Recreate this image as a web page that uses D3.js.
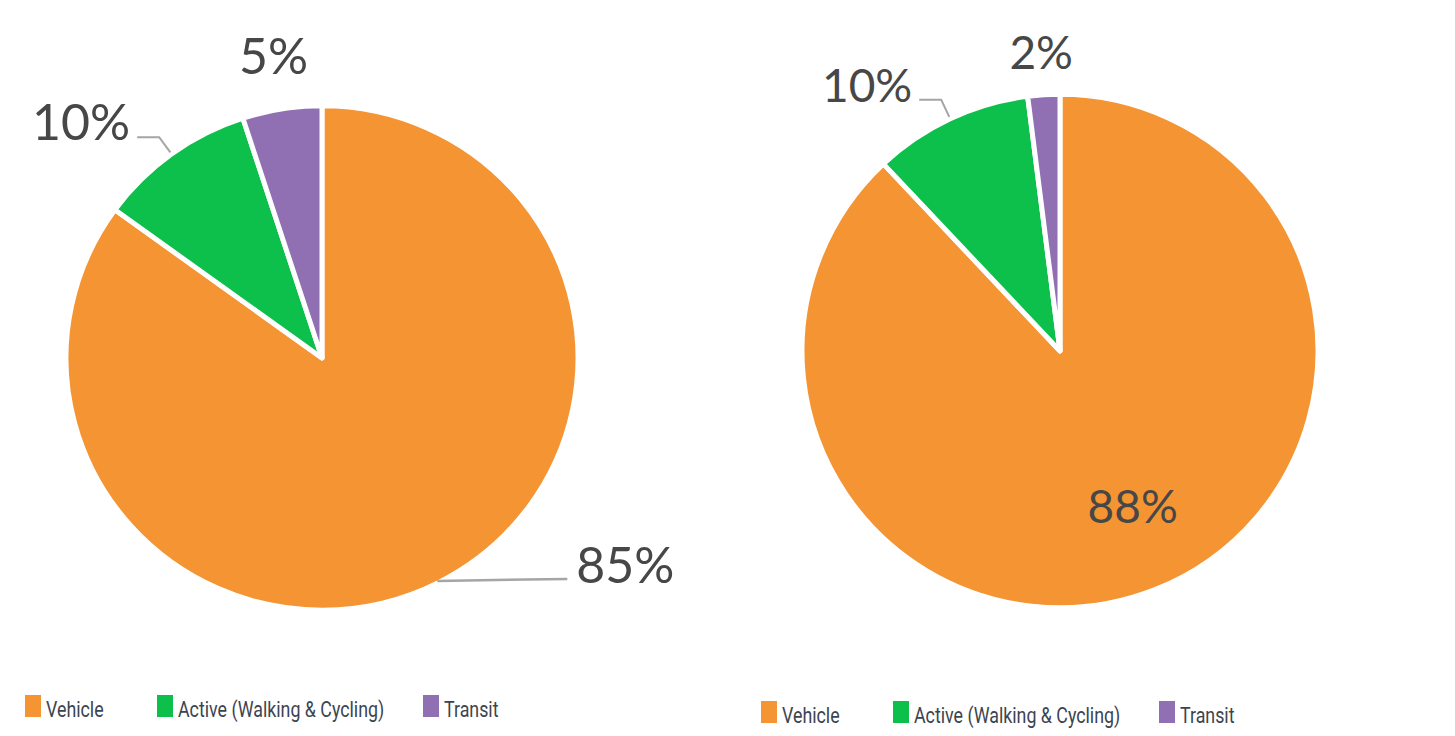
<!DOCTYPE html>
<html lang="en">
<head>
<meta charset="utf-8">
<script src="https://d3js.org/d3.v7.min.js"></script>
<style>
  html, body { margin: 0; padding: 0; background: #fff; }
  svg { display: block; }
  .pct { font-family: "Lato", "Open Sans", sans-serif; font-weight: 400; fill: #474747; }
  .leg { font-family: "Roboto", "Liberation Sans", sans-serif; fill: #3c4450; }
</style>
</head>
<body>
<div id="chart"></div>
<script>
// data
var categories = ["Vehicle", "Active (Walking & Cycling)", "Transit"];
var leftValues = [85, 10, 5];
var rightValues = [88, 10, 2];
var colors = ["#F49433", "#0DBF4B", "#9070B2"];

var W = 1455, H = 736;
var svg = d3.select("#chart").append("svg").attr("width", W).attr("height", H);

var color = d3.scaleOrdinal().domain(categories).range(colors);

// label styles per slice: "elbow" (leader with a bend), "straight" (flat leader), "plain" (no leader), "inside"
function drawPie(opt, values) {
  var cx = opt.cx, cy = opt.cy, r = opt.r, fontSize = opt.fontSize;
  var data = categories.map(function (c, i) { return { name: c, value: values[i] }; });
  var pie = d3.pie().sort(null).value(function (d) { return d.value; });
  var arc = d3.arc().innerRadius(0).outerRadius(r);
  var arcs = pie(data);

  var g = svg.append("g").attr("transform", "translate(" + cx + "," + cy + ")");
  g.append("g").attr("transform", "scale(1," + opt.sy + ")")
    .selectAll("path.slice")
    .data(arcs)
    .enter().append("path")
    .attr("class", "slice")
    .attr("d", arc)
    .attr("fill", function (d) { return color(d.data.name); })
    .attr("stroke", "#fff")
    .attr("stroke-width", 5)
    .attr("stroke-linejoin", "round");

  arcs.forEach(function (d, i) {
    var a = (d.startAngle + d.endAngle) / 2;
    var sx = Math.sin(a), sy = -Math.cos(a) * opt.sy;
    var mode = opt.modes[i];
    var txt = d.data.value + "%";
    if (mode === "inside") {
      var p = r * 0.66;
      g.append("text").attr("class", "pct")
        .attr("x", sx * p + 10).attr("y", sy * p - 2)
        .attr("dy", "0.35em").attr("text-anchor", "middle")
        .style("font-size", fontSize + "px").text(txt);
    } else if (mode === "plain") {
      var p2 = r + opt.plainGap;
      g.append("text").attr("class", "pct")
        .attr("x", sx * p2).attr("y", sy * p2)
        .attr("dy", "0.35em").attr("text-anchor", "middle")
        .style("font-size", fontSize + "px").text(txt);
    } else if (mode === "elbow") {
      var x0 = sx * (r + 2), y0 = sy * (r + 2);
      var x1 = sx * (r + 21), y1 = sy * (r + 21);
      var dir = sx < 0 ? -1 : 1;
      var x2 = x1 + dir * 22;
      g.append("path")
        .attr("d", "M" + x0 + "," + y0 + "L" + x1 + "," + y1 + "L" + x2 + "," + y1)
        .attr("fill", "none").attr("stroke", "#a5a5a5").attr("stroke-width", 2);
      g.append("text").attr("class", "pct")
        .attr("x", x2 + dir * 7).attr("y", y1)
        .attr("dy", "0.05em")
        .attr("text-anchor", dir < 0 ? "end" : "start")
        .style("font-size", fontSize + "px").text(txt);
    } else if (mode === "straight") {
      var xs = sx * (r - 2), ys = sy * (r - 2);
      var dir2 = sx < 0 ? -1 : 1;
      var xe = xs + dir2 * 130;
      g.append("path")
        .attr("d", "M" + xs + "," + ys + "L" + xe + "," + (ys - 2))
        .attr("fill", "none").attr("stroke", "#a5a5a5").attr("stroke-width", 2.5);
      g.append("text").attr("class", "pct")
        .attr("x", xe + dir2 * 9).attr("y", ys + 2)
        .attr("text-anchor", dir2 < 0 ? "end" : "start")
        .style("font-size", fontSize + "px").text(txt);
    }
  });

  // legend
  var gaps = [0, 132, 398];
  var leg = svg.append("g").attr("transform", "translate(" + opt.legendX + "," + opt.legendY + ")");
  var items = leg.selectAll("g.item").data(categories).enter().append("g")
    .attr("class", "item")
    .attr("transform", function (d, i) { return "translate(" + gaps[i] + ",0)"; });
  items.append("rect")
    .attr("x", 0).attr("y", -22).attr("width", 16).attr("height", 22)
    .attr("fill", function (d) { return color(d); });
  items.append("text").attr("class", "leg")
    .attr("transform", "translate(21,0) scale(0.81,1)")
    .style("font-size", "22px")
    .text(function (d) { return d; });
}

drawPie({ cx: 322, cy: 358, r: 256, sy: 0.985, fontSize: 50, plainGap: 54,
          modes: ["straight", "elbow", "plain"], legendX: 25, legendY: 717 }, leftValues);
drawPie({ cx: 1060, cy: 351, r: 258, sy: 0.995, fontSize: 46, plainGap: 42,
          modes: ["inside", "elbow", "plain"], legendX: 761, legendY: 723 }, rightValues);
</script>
</body>
</html>
